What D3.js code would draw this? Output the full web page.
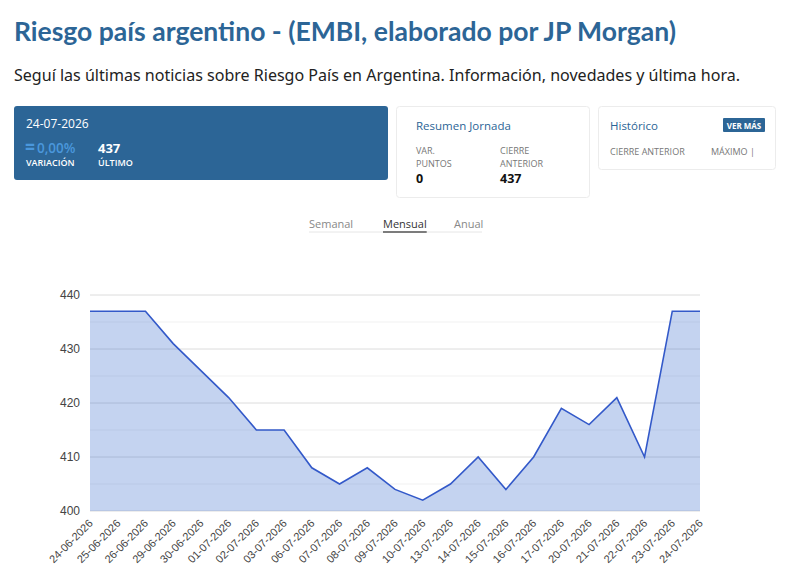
<!DOCTYPE html>
<html>
<head>
<meta charset="utf-8">
<script src="https://cdn.jsdelivr.net/npm/d3@7"></script>
<style>
  body { margin: 0; background: #fff; }
  svg { display: block; }
</style>
</head>
<body>
<div id="chart"></div>
<script>
var dates = ["24-06-2026", "25-06-2026", "26-06-2026", "29-06-2026", "30-06-2026", "01-07-2026",
             "02-07-2026", "03-07-2026", "06-07-2026", "07-07-2026", "08-07-2026", "09-07-2026",
             "10-07-2026", "13-07-2026", "14-07-2026", "15-07-2026", "16-07-2026", "17-07-2026",
             "20-07-2026", "21-07-2026", "22-07-2026", "23-07-2026", "24-07-2026"];
var values = [437, 437, 437, 431, 426, 421, 415, 415, 408, 405, 408, 404,
              402, 405, 410, 404, 410, 419, 416, 421, 410, 437, 437];
var yTicks = [400, 410, 420, 430, 440];
var yMinorTicks = [405, 415, 425, 435];
var tabs = ["Semanal", "Mensual", "Anual"];

function init() {
    var w = 790;
    var h = 569;
    var blue = "#2c6596";
    var font = "'Open Sans', sans-serif";
    var fontRed = "Lato, 'Open Sans', sans-serif";

    var svg = d3.select("#chart")
        .append("svg")
        .attr("width", w)
        .attr("height", h);

    // Header
    svg.append("text")
        .attr("x", 14).attr("y", 41)
        .attr("font-family", fontRed)
        .attr("font-weight", 700)
        .attr("font-size", "26px")
        .attr("fill", blue)
        .attr("textLength", 662).attr("lengthAdjust", "spacingAndGlyphs")
        .text("Riesgo país argentino - (EMBI, elaborado por JP Morgan)");

    svg.append("text")
        .attr("x", 14).attr("y", 81)
        .attr("font-family", "'Noto Sans', sans-serif")
        .attr("font-size", "16px")
        .attr("fill", "#222")
        .attr("textLength", 726).attr("lengthAdjust", "spacingAndGlyphs")
        .text("Seguí las últimas noticias sobre Riesgo País en Argentina. Información, novedades y última hora.");

    // Card 1
    svg.append("rect")
        .attr("x", 14).attr("y", 106).attr("width", 374).attr("height", 74)
        .attr("rx", 3).attr("fill", blue);
    svg.append("text").attr("x", 26).attr("y", 128)
        .attr("font-family", font).attr("font-size", "12px").attr("fill", "#fff")
        .text("24-07-2026");
    svg.append("text").attr("x", 25).attr("y", 153)
        .attr("font-family", font).attr("font-size", "13.5px").attr("fill", "#4a97dc")
        .attr("font-weight", 600)
        .html("<tspan font-weight='800' font-size='17px'>=</tspan><tspan dx='2'>0,00%</tspan>");
    svg.append("text").attr("x", 98).attr("y", 153)
        .attr("font-family", font).attr("font-size", "13px").attr("fill", "#fff")
        .attr("font-weight", 700)
        .text("437");
    svg.append("text").attr("x", 26).attr("y", 166)
        .attr("font-family", font).attr("font-size", "9px").attr("fill", "#fff")
        .attr("font-weight", 600)
        .text("VARIACIÓN");
    svg.append("text").attr("x", 98).attr("y", 166)
        .attr("font-family", font).attr("font-size", "9px").attr("fill", "#fff")
        .attr("font-weight", 600)
        .text("ÚLTIMO");

    // Card 2
    svg.append("rect")
        .attr("x", 396.5).attr("y", 106.5).attr("width", 193).attr("height", 91)
        .attr("rx", 3).attr("fill", "#fff").attr("stroke", "#ececec");
    svg.append("text").attr("x", 416).attr("y", 130)
        .attr("font-family", font).attr("font-size", "11.5px").attr("fill", blue)
        .text("Resumen Jornada");
    [["VAR.", 416, 154], ["PUNTOS", 416, 167], ["CIERRE", 500, 154], ["ANTERIOR", 500, 167]]
        .forEach(function(d) {
            svg.append("text").attr("x", d[1]).attr("y", d[2])
                .attr("font-family", font).attr("font-size", "9px").attr("fill", "#777")
                .text(d[0]);
        });
    svg.append("text").attr("x", 416).attr("y", 183)
        .attr("font-family", font).attr("font-size", "12.5px").attr("font-weight", 700)
        .attr("fill", "#111").text("0");
    svg.append("text").attr("x", 500).attr("y", 183)
        .attr("font-family", font).attr("font-size", "12.5px").attr("font-weight", 700)
        .attr("fill", "#111").text("437");

    // Card 3
    svg.append("rect")
        .attr("x", 598.5).attr("y", 106.5).attr("width", 177).attr("height", 63)
        .attr("rx", 3).attr("fill", "#fff").attr("stroke", "#ececec");
    svg.append("text").attr("x", 610).attr("y", 130)
        .attr("font-family", font).attr("font-size", "11.5px").attr("fill", blue)
        .text("Histórico");
    svg.append("rect")
        .attr("x", 723).attr("y", 118).attr("width", 42).attr("height", 14)
        .attr("rx", 1).attr("fill", blue);
    svg.append("text").attr("x", 744).attr("y", 128.5)
        .attr("text-anchor", "middle")
        .attr("font-family", font).attr("font-size", "8px").attr("font-weight", 700)
        .attr("fill", "#fff").text("VER MÁS");
    svg.append("text").attr("x", 610).attr("y", 155)
        .attr("font-family", font).attr("font-size", "9px").attr("fill", "#777")
        .text("CIERRE ANTERIOR");
    svg.append("text").attr("x", 711).attr("y", 155)
        .attr("font-family", font).attr("font-size", "9px").attr("fill", "#777")
        .text("MÁXIMO |");

    // Tabs
    var tabX = [309, 383, 454];
    svg.append("line")
        .attr("x1", 309).attr("x2", 482).attr("y1", 232).attr("y2", 232)
        .attr("stroke", "#e6e6e6").attr("stroke-width", 1);
    tabs.forEach(function(t, i) {
        var tx = svg.append("text").attr("x", tabX[i]).attr("y", 228)
            .attr("font-family", font).attr("font-size", "11px")
            .attr("fill", i === 1 ? "#333" : "#888")
            .text(t);
        if (i === 1) {
            var len = tx.node().getComputedTextLength();
            svg.append("line")
                .attr("x1", tabX[i]).attr("x2", tabX[i] + len)
                .attr("y1", 232).attr("y2", 232)
                .attr("stroke", "#555").attr("stroke-width", 1.5);
        }
    });

    // Chart
    var left = 90, right = 700, top = 295, bottom = 511;

    var xScale = d3.scalePoint()
        .domain(dates)
        .range([left, right]);

    var yScale = d3.scaleLinear()
        .domain([400, 440])
        .range([bottom, top]);

    var chart = svg.append("g").attr("class", "chart");

    chart.selectAll(".minor")
        .data(yMinorTicks)
        .enter().append("line")
        .attr("class", "minor")
        .attr("x1", left).attr("x2", right)
        .attr("y1", function(d) { return yScale(d); })
        .attr("y2", function(d) { return yScale(d); })
        .attr("stroke", "#f1f1f1");

    chart.selectAll(".major")
        .data(yTicks)
        .enter().append("line")
        .attr("class", "major")
        .attr("x1", left).attr("x2", right)
        .attr("y1", function(d) { return yScale(d); })
        .attr("y2", function(d) { return yScale(d); })
        .attr("stroke", "#dcdcdc");

    var area = d3.area()
        .x(function(d, i) { return xScale(dates[i]); })
        .y0(bottom)
        .y1(function(d) { return yScale(d); });

    var line = d3.line()
        .x(function(d, i) { return xScale(dates[i]); })
        .y(function(d) { return yScale(d); });

    chart.append("path")
        .datum(values)
        .attr("d", area)
        .attr("fill", "#3366cc")
        .attr("fill-opacity", 0.29);

    chart.append("path")
        .datum(values)
        .attr("d", line)
        .attr("fill", "none")
        .attr("stroke", "#3359c9")
        .attr("stroke-width", 1.6);

    // Y axis labels
    var yAxis = d3.axisLeft(yScale).tickValues(yTicks).tickSize(0).tickPadding(10);
    var yG = chart.append("g")
        .attr("transform", "translate(" + left + ",0)")
        .call(yAxis);
    yG.select(".domain").remove();
    yG.selectAll("text")
        .attr("font-family", "'Liberation Sans', Arial, sans-serif")
        .attr("font-size", "12px")
        .attr("fill", "#444");

    // X axis labels
    var xAxis = d3.axisBottom(xScale).tickSize(0).tickPadding(0);
    var xG = chart.append("g")
        .attr("transform", "translate(0," + bottom + ")")
        .call(xAxis);
    xG.select(".domain").remove();
    xG.selectAll("text")
        .attr("font-family", "'Liberation Sans', Arial, sans-serif")
        .attr("font-size", "11px")
        .attr("fill", "#444")
        .attr("text-anchor", "end")
        .attr("dy", null)
        .attr("x", 3)
        .attr("y", 13)
        .attr("transform", "rotate(-45, 3, 13)");
}
window.onload = init;
</script>
</body>
</html>
